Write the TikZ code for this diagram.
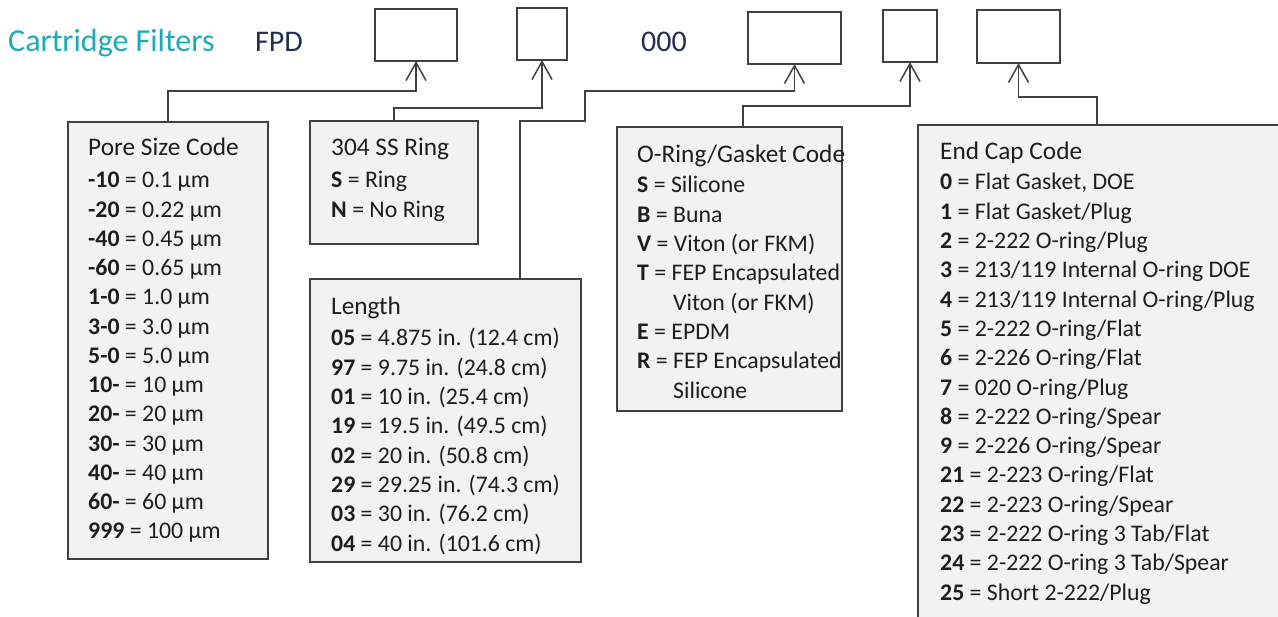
\documentclass[tikz,border=0pt]{standalone}
\usepackage{fontspec}
\setmainfont{Carlito}
\usetikzlibrary{arrows.meta}
\definecolor{teal}{RGB}{26,170,184}
\definecolor{navy}{RGB}{31,48,80}
\definecolor{edge}{RGB}{64,64,64}
\definecolor{boxfill}{RGB}{242,242,242}
\definecolor{txtc}{RGB}{30,30,30}
\newcommand\cd[1]{\textbf{#1}}
\tikzset{
  codebox/.style={draw=edge, line width=1.5pt, fill=boxfill, anchor=north west, inner sep=0pt, outer sep=0pt},
  slot/.style={draw=edge, line width=1.5pt, fill=white, anchor=north west, inner sep=0pt, outer sep=0pt},
  conn/.style={draw=edge, line width=1.5pt, -{Straight Barb[length=18pt,width=20pt,line width=1.5pt]}},
  txt/.style={anchor=base west, inner sep=0pt, text=txtc, font=\fontsize{23.8}{29}\selectfont},
  head/.style={anchor=base west, inner sep=0pt, text=txtc, font=\fontsize{25.3}{30}\selectfont},
}
\begin{document}
\begin{tikzpicture}[x=1pt,y=-1pt]
\useasboundingbox (0,0) rectangle (1278,617);
\clip (0,0) rectangle (1278,617);
% header
\node[anchor=base west, inner sep=0pt, text=teal, font=\fontsize{32}{38}\selectfont] (title) at (8,52) {Cartridge Filters};
\node[anchor=base west, inner sep=0pt, text=navy, font=\fontsize{30}{36}\selectfont] (fpd) at (255,52) {FPD};
\node[anchor=base west, inner sep=0pt, text=navy, font=\fontsize{30}{36}\selectfont] (zeros) at (641,52) {000};
% slots
\node[slot, minimum width=82pt, minimum height=52pt] (b1) at (375,9) {};
\node[slot, minimum width=50pt, minimum height=52pt] (b2) at (517,8) {};
\node[slot, minimum width=93pt, minimum height=52pt] (b3) at (748,12) {};
\node[slot, minimum width=54pt, minimum height=52pt] (b4) at (883,10) {};
\node[slot, minimum width=83pt, minimum height=53pt] (b5) at (977,10) {};
% code boxes
\node[codebox, minimum width=200pt, minimum height=437pt] (pore) at (68,122) {};
\node[codebox, minimum width=168pt, minimum height=123pt] (ring) at (310,121) {};
\node[codebox, minimum width=271pt, minimum height=283pt] (len) at (310,279) {};
\node[codebox, minimum width=225pt, minimum height=284pt] (oring) at (617,127) {};
\node[codebox, minimum width=400pt, minimum height=520pt] (cap) at (918,125) {};
% connectors
\coordinate (pj) at (168,91);
\draw[conn] (pj |- pore.north) -- (pj) -| (b1.south);
\coordinate (rj) at (394,108);
\draw[conn] (rj |- ring.north) -- (rj) -| (b2.south);
\coordinate (lj1) at (520,121);
\coordinate (lj2) at (585,91);
\draw[conn] (lj1 |- len.north) -- (lj1) -| (lj2) -| (b3.south);
\coordinate (oj) at (743,106);
\draw[conn] (oj |- oring.north) -- (oj) -| (b4.south);
\coordinate (cj) at (1097,97);
\draw[conn] (cj |- cap.north) -- (cj) -| (b5.south);
% pore size text
\node[head] (pore-t) at (88,156) {Pore Size Code};
\foreach \t [count=\i from 0] in {{\cd{-10} = 0.1 µm},{\cd{-20} = 0.22 µm},{\cd{-40} = 0.45 µm},{\cd{-60} = 0.65 µm},{\cd{1-0} = 1.0 µm},{\cd{3-0} = 3.0 µm},{\cd{5-0} = 5.0 µm},{\cd{10-} = 10 µm},{\cd{20-} = 20 µm},{\cd{30-} = 30 µm},{\cd{40-} = 40 µm},{\cd{60-} = 60 µm},{\cd{999} = 100 µm}}
  \node[txt] (pore-\i) at (88,188+\i*29.25) {\t};
% ring text
\node[head] (ring-t) at (331,156) {304 SS Ring};
\node[txt] (ring-0) at (331,188) {\cd{S} = Ring};
\node[txt] (ring-1) at (331,218) {\cd{N} = No Ring};
% length text
\node[head] (len-t) at (331,315) {Length};
\foreach \t [count=\i from 0] in {{\cd{05} = 4.875 in. (12.4 cm)},{\cd{97} = 9.75 in. (24.8 cm)},{\cd{01} = 10 in. (25.4 cm)},{\cd{19} = 19.5 in. (49.5 cm)},{\cd{02} = 20 in. (50.8 cm)},{\cd{29} = 29.25 in. (74.3 cm)},{\cd{03} = 30 in. (76.2 cm)},{\cd{04} = 40 in. (101.6 cm)}}
  \node[txt] (len-\i) at (331,346+\i*29.3) {\t};
% o-ring text
\node[head] (oring-t) at (637,163) {O-Ring/Gasket Code};
\node[txt] (oring-0) at (637,193) {\cd{S} = Silicone};
\node[txt] (oring-1) at (637,222.3) {\cd{B} = Buna};
\node[txt] (oring-2) at (637,251.6) {\cd{V} = Viton (or FKM)};
\node[txt] (oring-3) at (637,280.9) {\cd{T} = FEP Encapsulated};
\node[txt] (oring-4) at (673,310.2) {Viton (or FKM)};
\node[txt] (oring-5) at (637,339.5) {\cd{E} = EPDM};
\node[txt] (oring-6) at (637,368.8) {\cd{R} = FEP Encapsulated};
\node[txt] (oring-7) at (673,398.1) {Silicone};
% end cap text
\node[head] (cap-t) at (940,160) {End Cap Code};
\foreach \t [count=\i from 0] in {{\cd{0} = Flat Gasket, DOE},{\cd{1} = Flat Gasket/Plug},{\cd{2} = 2-222 O-ring/Plug},{\cd{3} = 213/119 Internal O-ring DOE},{\cd{4} = 213/119 Internal O-ring/Plug},{\cd{5} = 2-222 O-ring/Flat},{\cd{6} = 2-226 O-ring/Flat},{\cd{7} = 020 O-ring/Plug},{\cd{8} = 2-222 O-ring/Spear},{\cd{9} = 2-226 O-ring/Spear},{\cd{21} = 2-223 O-ring/Flat},{\cd{22} = 2-223 O-ring/Spear},{\cd{23} = 2-222 O-ring 3 Tab/Flat},{\cd{24} = 2-222 O-ring 3 Tab/Spear},{\cd{25} = Short 2-222/Plug}}
  \node[txt] (cap-\i) at (940,190+\i*29.3) {\t};
\end{tikzpicture}
\end{document}
